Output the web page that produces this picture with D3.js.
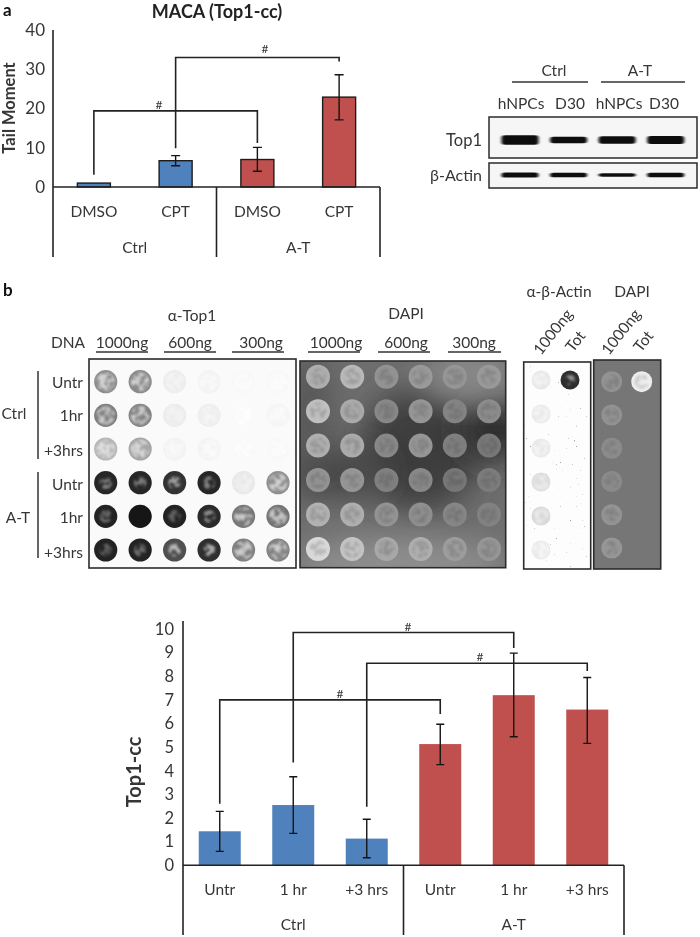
<!DOCTYPE html>
<html><head><meta charset="utf-8">
<script src="https://cdnjs.cloudflare.com/ajax/libs/d3/7.8.5/d3.min.js"></script>
<style>
html,body{margin:0;padding:0;background:#fff}
svg{display:block;filter:blur(0.4px)}
text{font-family:Lato,"Noto Sans",sans-serif;fill:#363636}
</style></head><body><svg id="c" width="700" height="937"></svg>
<script>
// ---- Panel a data
const aTreat = ["DMSO","CPT","DMSO","CPT"];
const aGroup = ["Ctrl","Ctrl","A-T","A-T"];
const aValues = [1.0,6.7,7.0,22.9];
const aErrLow = [1.0,5.4,4.0,17.1];
const aErrHigh = [1.0,8.0,10.1,28.6];
const aTicks = [0,10,20,30,40];
const aBrackets = [[0,2,3.1,19.4,11.2],[1,3,9.9,33,32]];
// ---- Panel b chart data
const bTreat = ["Untr","1 hr","+3 hrs","Untr","1 hr","+3 hrs"];
const bGroup = ["Ctrl","Ctrl","Ctrl","A-T","A-T","A-T"];
const bValues = [1.44,2.55,1.13,5.13,7.2,6.59];
const bErrLow = [0.59,1.35,0.32,4.26,5.44,5.16];
const bErrHigh = [2.28,3.75,1.95,5.97,8.98,7.95];
const bTicks = [0,1,2,3,4,5,6,7,8,9,10];
const bBrackets = [[0,3,2.6,7,6.4],[1,4,4.35,9.85,9.2],[2,5,2.48,8.55,8.22]];
// ---- Blot data (signal strength 0..1)
const blotRows = ["Untr","1hr","+3hrs","Untr","1hr","+3hrs"];
const blotCols = ["1000a","1000b","600a","600b","300a","300b"];
const top1Signal = [
 [.50,.52,.12,.07,.03,.03],
 [.58,.55,.13,.11,.01,.05],
 [.36,.42,.07,.06,.02,.03],
 [.93,.93,.88,.93,.16,.50],
 [.94,1.0,.95,.92,.60,.62],
 [.95,.94,.76,.90,.56,.55]];
const dapiSignal = [
 [.72,.78,.56,.60,.58,.60],
 [.82,.70,.50,.58,.46,.52],
 [.72,.70,.50,.58,.42,.34],
 [.56,.58,.42,.50,.32,.38],
 [.74,.72,.56,.54,.48,.44],
 [.96,.84,.68,.72,.62,.58]];
const actinSignal = [[.10,.95],[.08,0],[.09,0],[.17,0],[.20,0],[.08,0]];
const dapi2Signal = [[.40,.98],[.38,0],[.30,0],[.28,0],[.42,0],[.46,0]];
const wbLanes = ["hNPCs","D30","hNPCs","D30"];
const wbTop1 = [1.0,.7,.8,.85];
const wbActin = [.95,.85,.6,.85];

const svg = d3.select("#c");
const defs = svg.append("defs");

function mottle(id,freq,k,b,blur){
  const f=defs.append("filter").attr("id",id).attr("x","-10%").attr("y","-10%").attr("width","120%").attr("height","120%");
  f.append("feTurbulence").attr("type","fractalNoise").attr("baseFrequency",freq).attr("numOctaves",2).attr("seed",7).attr("result","n");
  f.append("feColorMatrix").attr("in","n").attr("type","matrix")
   .attr("values",`0 0 0 0 0 0 0 0 0 0 0 0 0 0 0 ${k} 0 0 0 ${b}`).attr("result","m");
  f.append("feComposite").attr("in","SourceGraphic").attr("in2","m").attr("operator","in").attr("result","t");
  f.append("feGaussianBlur").attr("in","t").attr("stdDeviation",blur);
}
mottle("mot",.2,6,-2.4,.9);
mottle("speck",.5,14,-10.2,.35);
defs.append("filter").attr("id","soft").attr("x","-50%").attr("y","-50%").attr("width","200%").attr("height","200%")
  .append("feGaussianBlur").attr("stdDeviation",16);
defs.append("filter").attr("id","soft2").append("feGaussianBlur").attr("stdDeviation",.6);
const blurBand=defs.append("filter").attr("id","band").attr("x","-20%").attr("y","-60%").attr("width","140%").attr("height","220%");
blurBand.append("feGaussianBlur").attr("stdDeviation","1.5 0.7");

function barChart(o){
  const g=svg.append("g");
  const x=d3.scaleBand().domain(d3.range(o.values.length)).range([o.left,o.right]);
  const y=d3.scaleLinear().domain(o.domain).range([o.bottom,o.top]);
  const cx=i=>x(i)+x.bandwidth()/2;
  const colour=d3.scaleOrdinal().domain(["Ctrl","A-T"]).range(["#4f81bd","#c0504d"]);
  g.selectAll("rect.bar").data(o.values).join("rect").attr("class","bar")
   .attr("x",(d,i)=>cx(i)-o.barW/2).attr("width",o.barW)
   .attr("y",d=>y(d)).attr("height",d=>y(0)-y(d))
   .attr("fill",(d,i)=>colour(o.group[i]))
   .attr("stroke",o.barStroke||"none").attr("stroke-width",o.barStroke?1.4:0);
  o.values.forEach((v,i)=>{
    if(o.low[i]===o.high[i]) return;
    const l=d3.path();
    l.moveTo(cx(i),y(o.low[i])); l.lineTo(cx(i),y(o.high[i]));
    l.moveTo(cx(i)-o.cap,y(o.low[i])); l.lineTo(cx(i)+o.cap,y(o.low[i]));
    l.moveTo(cx(i)-o.cap,y(o.high[i])); l.lineTo(cx(i)+o.cap,y(o.high[i]));
    g.append("path").attr("d",l).attr("fill","none").attr("stroke","#141414").attr("stroke-width",1.4);
  });
  o.brackets.forEach((b,n)=>{
    const p=d3.path();
    p.moveTo(cx(b[0]),y(b[2])); p.lineTo(cx(b[0]),y(b[3])); p.lineTo(cx(b[1]),y(b[3])); p.lineTo(cx(b[1]),y(b[4]));
    g.append("path").attr("d",p).attr("fill","none").attr("stroke","#222").attr("stroke-width",1.6);
    const h=o.hash[n];
    g.append("text").attr("x",h[0]).attr("y",h[1]).attr("text-anchor","middle").attr("dominant-baseline","central")
      .attr("font-size",12).text("#");
  });
  const ax=g.append("g").attr("transform",`translate(${o.left},0)`)
    .call(d3.axisLeft(y).tickValues(o.ticks).tickSize(0).tickPadding(o.tickPad));
  ax.selectAll("text").attr("font-size",o.fs).style("font-family","Lato");
  ax.select(".domain").attr("d",`M0,${o.axisTop}V${o.sepBottom}`).attr("stroke","#222").attr("stroke-width",1.6);
  const base=g.append("g").attr("stroke","#222").attr("stroke-width",1.6);
  base.append("line").attr("x1",o.left).attr("x2",o.right).attr("y1",y(0)).attr("y2",y(0));
  const mid=x(o.values.length/2);
  [mid,o.right].forEach(v=>base.append("line").attr("x1",v).attr("x2",v).attr("y1",y(0)).attr("y2",o.sepBottom));
  o.treat.forEach((t,i)=>g.append("text").attr("x",cx(i)).attr("y",o.treatY).attr("text-anchor","middle").attr("dominant-baseline","central").attr("font-size",o.fsCat).text(t));
  const groups=Array.from(new Set(o.group));
  groups.forEach((t,i)=>g.append("text").attr("x",i?(mid+o.right)/2:(o.left+mid)/2).attr("y",o.groupY).attr("text-anchor","middle").attr("dominant-baseline","central").attr("font-size",o.fsCat).text(t));
  g.append("text").attr("transform",`translate(${o.ylabelX},${o.ylabelY}) rotate(-90)`).attr("text-anchor","middle").attr("dominant-baseline","central")
   .attr("font-size",o.ylabelFs).attr("font-weight",700).text(o.ylabel);
}
barChart({values:aValues,low:aErrLow,high:aErrHigh,treat:aTreat,group:aGroup,ticks:aTicks,brackets:aBrackets,domain:[0,40],
  left:53,right:380,top:30,bottom:187,axisTop:30,sepBottom:257,barW:33,barStroke:"#1c1c1c",cap:4.5,tickPad:8,fs:17,fsCat:15.5,
  treatY:211,groupY:247,hash:[[159,104],[265,48]],ylabel:"Tail Moment",ylabelX:9,ylabelY:108,ylabelFs:16.5});
barChart({values:bValues,low:bErrLow,high:bErrHigh,treat:bTreat,group:bGroup,ticks:bTicks,brackets:bBrackets,domain:[0,10],
  left:183,right:624,top:629,bottom:865.3,axisTop:621,sepBottom:935,barW:42,cap:4,tickPad:9,fs:16.5,fsCat:15.5,
  treatY:889,groupY:924,hash:[[340,693],[408,626],[480,656]],ylabel:"Top1-cc",ylabelX:133,ylabelY:772,ylabelFs:20});

function label(t,x,y,fs,anchor,weight){
  return svg.append("text").attr("x",x).attr("y",y).attr("font-size",fs).attr("text-anchor",anchor||"middle")
    .attr("dominant-baseline","central").attr("font-weight",weight||400).text(t);
}
function rule(x1,y1,x2,y2,w){svg.append("line").attr("x1",x1).attr("y1",y1).attr("x2",x2).attr("y2",y2).attr("stroke","#333").attr("stroke-width",w||1.4);}
label("a",3,9,17,"start",700).style("fill","#111");
label("b",3,289,17,"start",700).style("fill","#111");
label("MACA (Top1-cc)",217,11,18,"middle",700).style("fill","#222");

// ---- Western blot
label("Ctrl",554,70,15.5); label("A-T",640,70,15.5);
rule(512,82,588,82); rule(601,82,685,82);
const wbX=d3.scalePoint().domain(d3.range(4)).range([520,665.7]);
[521,570,619,664].forEach((v,i)=>label(wbLanes[i],v,103,15.5));
label("Top1",482,140,16.5,"end"); label("β-Actin",482,174,16,"end");
function wb(top,bottom,vals,maxH,cyOff){
  svg.append("rect").attr("x",489).attr("y",top).attr("width",208).attr("height",bottom-top).attr("fill","#f6f6f6").attr("stroke","#2b2b2b").attr("stroke-width",1.5);
  const cy=(top+bottom)/2+cyOff;
  vals.forEach((v,i)=>svg.append("rect").attr("x",wbX(i)-18.5).attr("y",cy-maxH*v/2).attr("width",37).attr("height",maxH*v).attr("rx",3)
    .attr("fill","#111").attr("filter","url(#band)"));
}
wb(117,158,wbTop1,9.5,2.5); wb(163,188,wbActin,5.5,-.5);

// ---- Dot blots
label("α-Top1",192,315,15.5); label("DNA",68,342,15.5);
label("DAPI",406,313,15.5);
[["1000ng",122,96,148],["600ng",190,164,216],["300ng",261,232,284],["1000ng",336,308,360],["600ng",406,378,430],["300ng",474,448,501]]
 .forEach(d=>{label(d[0],d[1],342,15.5); rule(d[2],352,d[3],352);});
[382,415,450,484,517,552].forEach((v,i)=>label(blotRows[i],83,v,15.5,"end"));
label("Ctrl",14,413,15.5); label("A-T",18,517,15.5);
rule(38,371,38,459,1.5); rule(38,472,38,558,1.5);
label("α-β-Actin",559,291,15.5); label("DAPI",632,291,15.5);
[["1000ng",541,356],["Tot",573,353],["1000ng",609,356],["Tot",641,353]].forEach(d=>
  svg.append("text").attr("transform",`translate(${d[1]},${d[2]}) rotate(-52)`).attr("font-size",15.5).text(d[0]));

function blot(o){
  const g=svg.append("g");
  const id="clip"+o.name;
  defs.append("clipPath").attr("id",id).append("rect").attr("x",o.x0).attr("y",o.y0).attr("width",o.x1-o.x0).attr("height",o.y1-o.y0);
  const body=g.append("g").attr("clip-path",`url(#${id})`);
  body.append("rect").attr("x",o.x0).attr("y",o.y0).attr("width",o.x1-o.x0).attr("height",o.y1-o.y0).attr("fill",o.bg);
  (o.blobs||[]).forEach(b=>body.append("ellipse").attr("cx",b[0]).attr("cy",b[1]).attr("rx",b[2]).attr("ry",b[3]).attr("fill",b[4]).attr("filter","url(#soft)"));
  if(o.specks) body.append("rect").attr("x",o.x0).attr("y",o.y0).attr("width",o.x1-o.x0).attr("height",o.y1-o.y0).attr("fill",o.specks).attr("opacity",.55).attr("filter","url(#speck)");
  const x=d3.scalePoint().domain(d3.range(o.data[0].length)).range(o.xr);
  const y=d3.scalePoint().domain(d3.range(o.data.length)).range(o.yr);
  o.data.forEach((row,r)=>row.forEach((v,c)=>{
    if(v<=0) return;
    const cx=x(c), cy=y(r), col=o.color(v);
    body.append("circle").attr("cx",cx).attr("cy",cy).attr("r",o.r).attr("fill",col).attr("filter","url(#soft2)");
    if(v<1) body.append("circle").attr("cx",cx).attr("cy",cy).attr("r",o.r*o.holeR(v)).attr("fill",o.hole(v)).attr("filter","url(#mot)");
  }));
  g.append("rect").attr("x",o.x0).attr("y",o.y0).attr("width",o.x1-o.x0).attr("height",o.y1-o.y0).attr("fill","none").attr("stroke","#2b2b2b").attr("stroke-width",1.6);
}
const inkDot=d3.scaleLinear().domain([0,.2,.5,1]).range(["#fbfbfb","#e4e4e4","#8e8e8e","#161616"]);
const inkHole=d3.scaleLinear().domain([0,.5,.9,1]).range(["#ffffff","#d2d2d2","#a8a8a8","#161616"]);
const dapiDot=d3.scaleLinear().domain([0,.5,1]).range(["#555","#888","#e0e0e0"]);
const dapiHole=d3.scaleLinear().domain([0,.5,1]).range(["#4c4c4c","#787878","#bcbcbc"]);
const inkHoleR=v=>v>.7?.55:.8;

blot({name:"t",x0:89,x1:296,y0:359,y1:568,bg:"#fafafa",data:top1Signal,xr:[105.7,278],yr:[381.7,550],r:11.6,color:inkDot,hole:inkHole,holeR:inkHoleR});
blot({name:"d",x0:300,x1:505.7,y0:361,y1:567.7,bg:"#6e6e6e",data:dapiSignal,xr:[318,489],yr:[376.7,549],r:12,color:dapiDot,hole:dapiHole,holeR:()=>.7,
  blobs:[[420,450,60,60,"#3d3d3d"],[495,430,35,30,"#2c2c2c"],[335,472,50,25,"#454545"],[400,565,110,28,"#8f8f8f"],[470,375,50,25,"#8a8a8a"],[310,410,20,60,"#555"]]});
blot({name:"a2",x0:523.7,x1:590.7,y0:362,y1:569,bg:"#fdfdfd",specks:"#555",data:actinSignal,xr:[541,570],yr:[380,550],r:9.5,
  color:d3.scaleLinear().domain([0,.2,1]).range(["#f6f6f6","#d8d8d8","#222"]),hole:d3.scaleLinear().domain([0,1]).range(["#ffffff","#8a8a8a"]),holeR:v=>v>.7?.55:.85});
blot({name:"d2",x0:593.7,x1:660.7,y0:360,y1:569,bg:"#767676",data:dapi2Signal,xr:[611.7,641.7],yr:[381.7,548],r:10.5,
  color:d3.scaleLinear().domain([0,.5,1]).range(["#777","#9a9a9a","#f2f2f2"]),hole:d3.scaleLinear().domain([0,.5,1]).range(["#777","#848484","#d0d0d0"]),holeR:()=>.7});
</script></body></html>
